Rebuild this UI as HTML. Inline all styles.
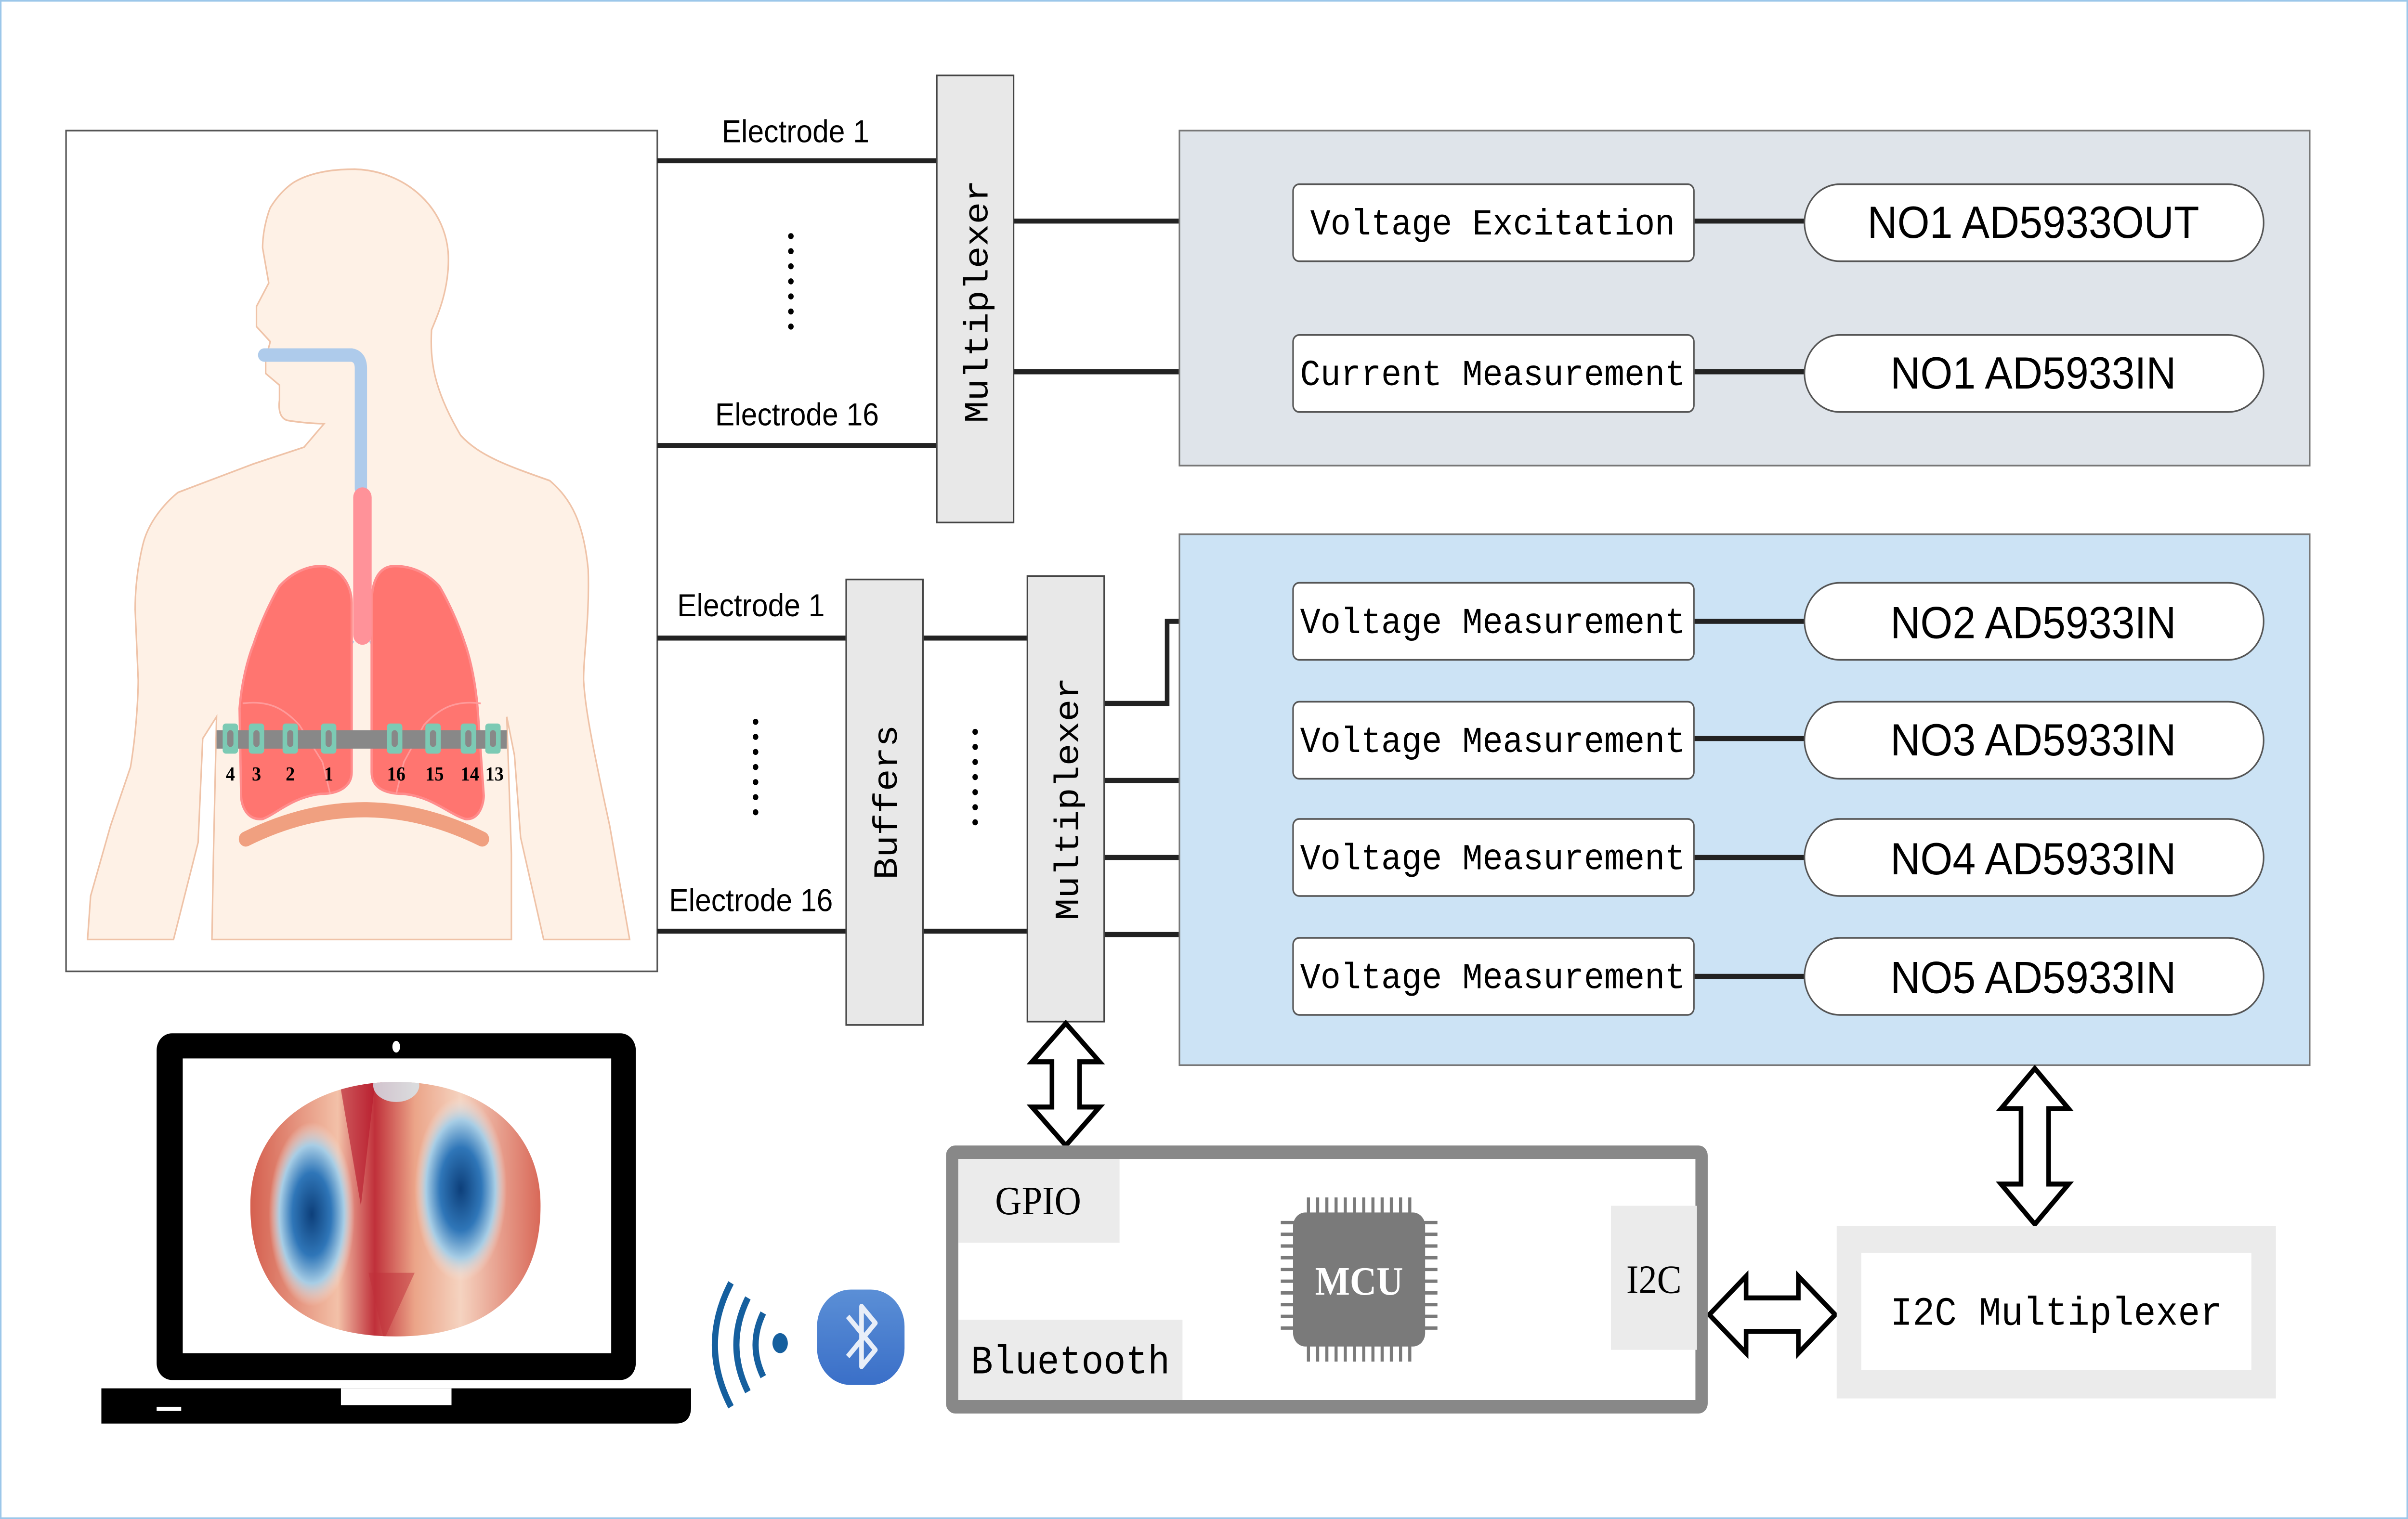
<!DOCTYPE html>
<html><head><meta charset="utf-8"><style>
html,body{margin:0;padding:0;background:#fff;overflow:hidden;width:100vw;height:100vh;}
svg{display:block;width:100vw;height:100vh;}
.m{font-family:"Liberation Mono",monospace;}
.s{font-family:"Liberation Sans",sans-serif;}
.r{font-family:"Liberation Serif",serif;}
</style></head><body>
<svg viewBox="0 0 1568 907" preserveAspectRatio="none" xmlns="http://www.w3.org/2000/svg">
<defs>
<radialGradient id="blue" cx="0.5" cy="0.5" r="0.5">
<stop offset="0" stop-color="#0d3f7a"/><stop offset="0.45" stop-color="#2f76b8"/><stop offset="0.75" stop-color="#a7cde5"/><stop offset="1" stop-color="#f7e8e0" stop-opacity="0"/>
</radialGradient>
<linearGradient id="heat" x1="0" y1="0" x2="1" y2="0">
<stop offset="0" stop-color="#d35a4a"/><stop offset="0.3" stop-color="#f3c1a8"/><stop offset="0.42" stop-color="#c0303a"/><stop offset="0.55" stop-color="#eba488"/><stop offset="0.7" stop-color="#f5d3c0"/><stop offset="1" stop-color="#d45848"/>
</linearGradient>
<linearGradient id="bt" x1="0" y1="0" x2="0" y2="1"><stop offset="0" stop-color="#5b8fd6"/><stop offset="1" stop-color="#3a6fc8"/></linearGradient>
<clipPath id="blob"><path d="M258,646 C310,646 352,672 352,720 C352,772 316,798 258,798 C198,798 163,772 163,720 C163,672 205,646 258,646 Z"/></clipPath>
</defs>
<rect x="0.5" y="0.5" width="1567" height="906" fill="#fff" stroke="#9cc7ea" stroke-width="1"/>

<rect x="43" y="78" width="385" height="502" fill="#fff" stroke="#555" stroke-width="1"/>
<path d="M231,101 C265,102 292,125 292,155 C292,175 284,190 281,197 C280,215 282,232 300,260 C312,272 330,278 358,287 C372,298 380,312 383,340 C384,370 380,390 380,406 C381,420 383,434 397,493 L410,561 L354,561 L339,500 L335,451 L330,428 L333,510 L333,561 L138,561 L139,510 L141,428 L132,441 L129,503 L113,561 L57,561 L59,535 L72,493 L85,458 C90,430 90,406 90,406 L88,364 C88,340 94,322 94,322 C100,305 116,294 116,294 L165,277 L198,267 L211,253 C200,253 187,251 187,251 C180,249 182,239 182,239 L182,230 L173,223 L173,214 L176,204 L167,195 L167,183 L175,169 L171,148 C171,135 176,124 176,124 C184,112 193,108 193,108 C205,102 220,101 231,101 Z" fill="#fef1e6" stroke="#efc3a8" stroke-width="1"/>
<path d="M172,212 L229,212 Q235,213 235,220 L235,292" fill="none" stroke="#aecbeb" stroke-width="8" stroke-linecap="round"/>
<path d="M229,382 L222,392 M242,382 L249,392" stroke="#aecbeb" stroke-width="4"/>
<path d="M209,338 C220,338 229,348 229,360 L229,461 C229,470 220,474 209,474 C190,476 180,486 171,489 C160,490 157,480 157,475 L156,423 C158,400 165,385 165,385 C172,365 182,350 182,350 C190,342 200,338 209,338 Z" fill="#ff7570" stroke="#ff8c8c" stroke-width="1.5"/>
<path d="M257,338 C246,338 242,348 242,360 L242,461 C242,470 250,474 263,474 C282,476 292,486 303,489 C312,490 315,480 315,475 L311,423 C309,400 303,385 303,385 C296,365 286,350 286,350 C278,342 268,338 257,338 Z" fill="#ff7570" stroke="#ff8c8c" stroke-width="1.5"/>
<path d="M158,420 C175,418 185,423 195,433 L210,455 L215,474 M313,420 C296,418 286,423 276,433 L263,455 L258,474" fill="none" stroke="#ff9a9a" stroke-width="1"/>
<rect x="230" y="291" width="12" height="94" rx="6" fill="#ff9299"/>
<path d="M160,501 Q237,466 314,501" fill="none" stroke="#f0a080" stroke-width="9" stroke-linecap="round"/>
<rect x="141" y="436" width="189" height="11" fill="#888"/>
<g fill="#7ccab4">
<rect x="145" y="432" width="10" height="18" rx="2"/><rect x="162" y="432" width="10" height="18" rx="2"/><rect x="184" y="432" width="10" height="18" rx="2"/><rect x="209" y="432" width="10" height="18" rx="2"/>
<rect x="252" y="432" width="10" height="18" rx="2"/><rect x="277" y="432" width="10" height="18" rx="2"/><rect x="300" y="432" width="10" height="18" rx="2"/><rect x="316" y="432" width="10" height="18" rx="2"/>
</g>
<g fill="#888"><rect x="148" y="436" width="4" height="10" rx="2"/><rect x="165" y="436" width="4" height="10" rx="2"/><rect x="187" y="436" width="4" height="10" rx="2"/><rect x="212" y="436" width="4" height="10" rx="2"/><rect x="255" y="436" width="4" height="10" rx="2"/><rect x="280" y="436" width="4" height="10" rx="2"/><rect x="303" y="436" width="4" height="10" rx="2"/><rect x="319" y="436" width="4" height="10" rx="2"/></g>
<g class="r" font-size="12" font-weight="bold" text-anchor="middle" fill="#000">
<text x="150" y="466">4</text><text x="167" y="466">3</text><text x="189" y="466">2</text><text x="214" y="466">1</text><text x="258" y="466">16</text><text x="283" y="466">15</text><text x="306" y="466">14</text><text x="322" y="466">13</text>
</g>

<g stroke="#222" stroke-width="3">
<line x1="428" y1="96" x2="610" y2="96"/><line x1="428" y1="266" x2="610" y2="266"/>
<line x1="660" y1="132" x2="842" y2="132"/><line x1="660" y1="222" x2="842" y2="222"/>
<line x1="428" y1="381" x2="551" y2="381"/><line x1="428" y1="556" x2="551" y2="556"/>
<line x1="601" y1="381" x2="669" y2="381"/><line x1="601" y1="556" x2="669" y2="556"/>
<polyline fill="none" points="719,420 760,420 760,371 842,371"/>
<polyline fill="none" points="719,466 795,466 795,441 842,441"/>
<line x1="719" y1="512" x2="842" y2="512"/>
<polyline fill="none" points="719,558 773,558 773,583 842,583"/>
</g>
<g class="s" font-size="19" text-anchor="middle" fill="#000">
<text x="518" y="85">Electrode 1</text><text x="519" y="254">Electrode 16</text>
<text x="489" y="368">Electrode 1</text><text x="489" y="544">Electrode 16</text>
</g>
<g fill="#000">
<circle cx="515" cy="141" r="1.8"/><circle cx="515" cy="150" r="1.8"/><circle cx="515" cy="159" r="1.8"/><circle cx="515" cy="168" r="1.8"/><circle cx="515" cy="177" r="1.8"/><circle cx="515" cy="186" r="1.8"/><circle cx="515" cy="195" r="1.8"/>
<circle cx="492" cy="431" r="1.8"/><circle cx="492" cy="440" r="1.8"/><circle cx="492" cy="449" r="1.8"/><circle cx="492" cy="458" r="1.8"/><circle cx="492" cy="467" r="1.8"/><circle cx="492" cy="476" r="1.8"/><circle cx="492" cy="485" r="1.8"/>
<circle cx="635" cy="437" r="1.8"/><circle cx="635" cy="446" r="1.8"/><circle cx="635" cy="455" r="1.8"/><circle cx="635" cy="464" r="1.8"/><circle cx="635" cy="473" r="1.8"/><circle cx="635" cy="482" r="1.8"/><circle cx="635" cy="491" r="1.8"/>
</g>
<rect x="610" y="45" width="50" height="267" fill="#e8e8e8" stroke="#444" stroke-width="1"/>
<rect x="551" y="346" width="50" height="266" fill="#e8e8e8" stroke="#444" stroke-width="1"/>
<rect x="669" y="344" width="50" height="266" fill="#e8e8e8" stroke="#444" stroke-width="1"/>
<g class="m" font-size="22" text-anchor="middle" fill="#000">
<text transform="translate(643,180) rotate(-90)">Multiplexer</text>
<text transform="translate(584,479) rotate(-90)">Buffers</text>
<text transform="translate(702,477) rotate(-90)">Multiplexer</text>
</g>

<rect x="768" y="78" width="736" height="200" fill="#dfe4ea" stroke="#777" stroke-width="1"/>
<rect x="768" y="319" width="736" height="317" fill="#cce3f5" stroke="#777" stroke-width="1"/>
<g stroke="#222" stroke-width="3">
<line x1="1103" y1="132" x2="1175" y2="132"/><line x1="1103" y1="222" x2="1175" y2="222"/>
<line x1="1103" y1="371" x2="1175" y2="371"/><line x1="1103" y1="441" x2="1175" y2="441"/>
<line x1="1103" y1="512" x2="1175" y2="512"/><line x1="1103" y1="583" x2="1175" y2="583"/>
</g>
<g fill="#fff" stroke="#555" stroke-width="1">
<rect x="842" y="110" width="261" height="46" rx="4"/><rect x="842" y="200" width="261" height="46" rx="4"/>
<rect x="842" y="348" width="261" height="46" rx="4"/><rect x="842" y="419" width="261" height="46" rx="4"/>
<rect x="842" y="489" width="261" height="46" rx="4"/><rect x="842" y="560" width="261" height="46" rx="4"/>
<rect x="1175" y="110" width="299" height="46" rx="23"/><rect x="1175" y="200" width="299" height="46" rx="23"/>
<rect x="1175" y="348" width="299" height="46" rx="23"/><rect x="1175" y="419" width="299" height="46" rx="23"/>
<rect x="1175" y="489" width="299" height="46" rx="23"/><rect x="1175" y="560" width="299" height="46" rx="23"/>
</g>
<g class="m" font-size="22" fill="#000" text-anchor="middle">
<text x="972" y="140">Voltage Excitation</text>
<text x="972" y="230">Current Measurement</text>
<text x="972" y="378">Voltage Measurement</text>
<text x="972" y="449">Voltage Measurement</text>
<text x="972" y="519">Voltage Measurement</text>
<text x="972" y="590">Voltage Measurement</text>
</g>
<g class="s" font-size="27" fill="#000" text-anchor="middle">
<text x="1324" y="142">NO1 AD5933OUT</text>
<text x="1324" y="232">NO1 AD5933IN</text>
<text x="1324" y="381">NO2 AD5933IN</text>
<text x="1324" y="451">NO3 AD5933IN</text>
<text x="1324" y="522">NO4 AD5933IN</text>
<text x="1324" y="593">NO5 AD5933IN</text>
</g>

<g fill="#fff" stroke="#000" stroke-width="3" stroke-linejoin="miter">
<path d="M694,611 L716,634 L703,634 L703,661 L716,661 L694,684 L672,661 L685,661 L685,634 L672,634 Z"/>
<path d="M1325,638 L1347,662 L1334,662 L1334,707 L1347,707 L1325,731 L1303,707 L1316,707 L1316,662 L1303,662 Z"/>
<path d="M1113,785 L1137,762 L1137,775 L1171,775 L1171,762 L1195,785 L1171,808 L1171,795 L1137,795 L1137,808 Z"/>
</g>

<rect x="620" y="688" width="488" height="152" fill="#fff" stroke="#888" stroke-width="8" rx="2"/>
<rect x="624" y="692" width="105" height="50" fill="#ebebeb"/>
<rect x="624" y="788" width="146" height="48" fill="#ebebeb"/>
<rect x="1049" y="720" width="56" height="86" fill="#ebebeb"/>
<g class="r" font-size="24" fill="#000" text-anchor="middle">
<text x="676" y="725">GPIO</text><text x="1077" y="772">I2C</text>
</g>
<text x="697" y="820" class="m" font-size="24" text-anchor="middle" fill="#000">Bluetooth</text>
<g fill="#7a7a7a">
<rect x="842" y="724" width="86" height="80" rx="8"/>
<g stroke="#7a7a7a" stroke-width="2">
<path d="M852,715v10M858,715v10M864,715v10M870,715v10M876,715v10M882,715v10M888,715v10M894,715v10M900,715v10M906,715v10M912,715v10M918,715v10"/>
<path d="M852,803v10M858,803v10M864,803v10M870,803v10M876,803v10M882,803v10M888,803v10M894,803v10M900,803v10M906,803v10M912,803v10M918,803v10"/>
<path d="M834,730h9M834,737h9M834,744h9M834,751h9M834,758h9M834,765h9M834,772h9M834,779h9M834,786h9M834,793h9"/>
<path d="M927,730h9M927,737h9M927,744h9M927,751h9M927,758h9M927,765h9M927,772h9M927,779h9M927,786h9M927,793h9"/>
</g></g>
<text x="885" y="773" class="r" font-size="24" font-weight="bold" fill="#fff" text-anchor="middle">MCU</text>

<rect x="1196" y="732" width="286" height="103" fill="#ebebeb"/>
<rect x="1212" y="748" width="254" height="70" fill="#fff"/>
<text x="1339" y="791" class="m" font-size="24" text-anchor="middle" fill="#000">I2C Multiplexer</text>

<rect x="102" y="617" width="312" height="207" rx="10" fill="#000"/>
<rect x="119" y="632" width="279" height="176" fill="#fff"/>
<ellipse cx="258" cy="625" rx="2.5" ry="3.5" fill="#fff"/>
<path d="M66,829 L450,829 L450,840 Q450,850 440,850 L66,850 Z" fill="#000"/>
<rect x="222" y="829" width="72" height="10" fill="#fff"/>
<rect x="102" y="840" width="16" height="2.5" fill="#fff"/>
<g clip-path="url(#blob)">
<rect x="160" y="640" width="200" height="165" fill="url(#heat)"/>
<path d="M220,640 L245,640 L235,720 Z" fill="#b5182b" opacity="0.6"/>
<path d="M250,800 L240,760 L270,760 Z" fill="#c0303a" opacity="0.5"/>
<ellipse cx="203" cy="725" rx="28" ry="55" fill="url(#blue)"/>
<ellipse cx="300" cy="710" rx="30" ry="55" fill="url(#blue)"/>
<ellipse cx="258" cy="648" rx="15" ry="10" fill="#d6e8f3" opacity="0.8"/>
</g>

<g fill="none" stroke="#155f9e" stroke-width="4">
<path d="M476,766 Q455,803 476,840"/><path d="M487,775 Q472,803 487,831"/><path d="M497,784 Q487,803 497,822"/>
</g>
<ellipse cx="508" cy="802" rx="5" ry="6" fill="#155f9e"/>
<rect x="532" y="770" width="57" height="57" rx="22" fill="url(#bt)"/>
<path d="M552,786 L570,806 L561,816 L561,780 L570,790 L552,810" fill="none" stroke="#e8eef8" stroke-width="3" stroke-linejoin="round"/>
</svg>
</body></html>
